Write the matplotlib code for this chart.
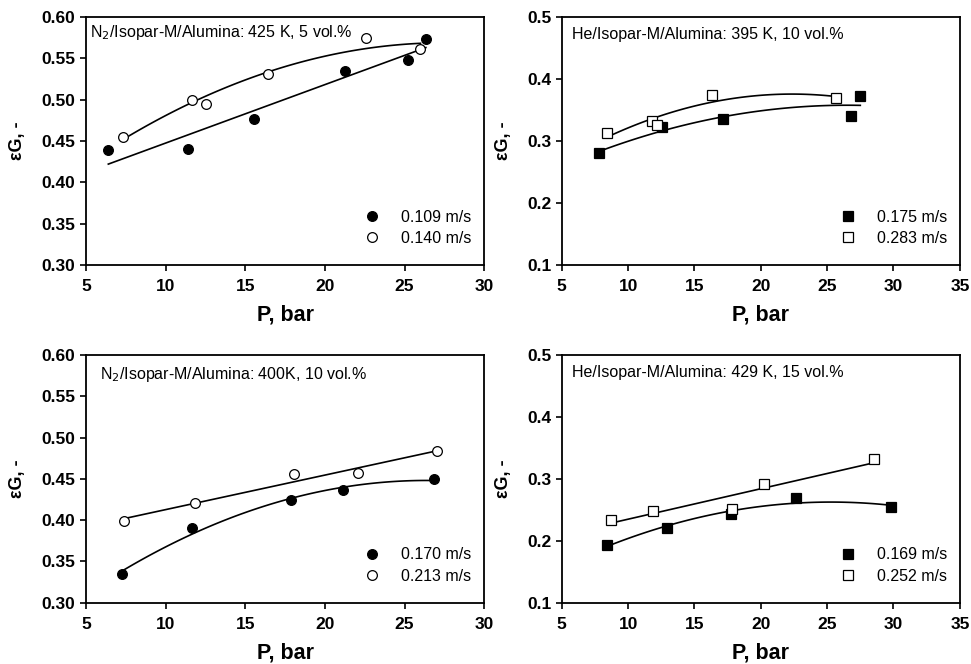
import numpy as np
import matplotlib.pyplot as plt

plt.rcParams['font.family'] = ['Liberation Sans', 'DejaVu Sans']

# Panel (a): N2, 425 K, 5 vol.%
p_a1 = [6.40, 11.38, 15.56, 21.25, 25.25, 26.34]
e_a1 = [0.439, 0.440, 0.476, 0.535, 0.548, 0.573]
p_a2 = [7.34, 11.67, 12.51, 16.44, 22.55, 26.00]
e_a2 = [0.455, 0.500, 0.495, 0.531, 0.574, 0.561]

# Panel (b): He, 395 K, 10 vol.%
p_b1 = [7.84, 12.53, 17.13, 26.79, 27.50]
e_b1 = [0.280, 0.323, 0.336, 0.341, 0.373]
p_b2 = [8.39, 11.78, 12.16, 16.30, 25.66]
e_b2 = [0.313, 0.332, 0.325, 0.374, 0.370]

# Panel (c): N2, 400 K, 10 vol.%
p_c1 = [7.26, 11.65, 17.85, 21.15, 26.82]
e_c1 = [0.335, 0.390, 0.424, 0.437, 0.450]
p_c2 = [7.41, 11.82, 18.08, 22.11, 27.07]
e_c2 = [0.399, 0.421, 0.456, 0.457, 0.484]

# Panel (d): He, 429 K, 15 vol.%
p_d1 = [8.39, 12.96, 17.73, 22.63, 29.78]
e_d1 = [0.194, 0.220, 0.244, 0.269, 0.255]
p_d2 = [8.69, 11.88, 17.83, 20.26, 28.52]
e_d2 = [0.234, 0.249, 0.251, 0.292, 0.332]

panels = [
    dict(pos=[0.0886, 0.601, 0.410, 0.3735], xlim=(5, 30), ylim=(0.30, 0.60),
         yticks=np.arange(0.30, 0.601, 0.05), fmt='%.2f', marker='o',
         title='N$_2$/Isopar-M/Alumina: 425 K, 5 vol.%', tx=0.01, ty=0.975,
         series=[(p_a1, e_a1, 'k', '0.109 m/s', 1), (p_a2, e_a2, 'w', '0.140 m/s', 2)]),
    dict(pos=[0.5785, 0.601, 0.410, 0.3735], xlim=(5, 35), ylim=(0.1, 0.5),
         yticks=np.arange(0.1, 0.501, 0.1), fmt='%.1f', marker='s',
         title='He/Isopar-M/Alumina: 395 K, 10 vol.%', tx=0.025, ty=0.96,
         series=[(p_b1, e_b1, 'k', '0.175 m/s', 2), (p_b2, e_b2, 'w', '0.283 m/s', 2)]),
    dict(pos=[0.0886, 0.0923, 0.410, 0.3727], xlim=(5, 30), ylim=(0.30, 0.60),
         yticks=np.arange(0.30, 0.601, 0.05), fmt='%.2f', marker='o',
         title='N$_2$/Isopar-M/Alumina: 400K, 10 vol.%', tx=0.035, ty=0.96,
         series=[(p_c1, e_c1, 'k', '0.170 m/s', 2), (p_c2, e_c2, 'w', '0.213 m/s', 1)]),
    dict(pos=[0.5785, 0.0923, 0.410, 0.3727], xlim=(5, 35), ylim=(0.1, 0.5),
         yticks=np.arange(0.1, 0.501, 0.1), fmt='%.1f', marker='s',
         title='He/Isopar-M/Alumina: 429 K, 15 vol.%', tx=0.025, ty=0.96,
         series=[(p_d1, e_d1, 'k', '0.169 m/s', 2), (p_d2, e_d2, 'w', '0.252 m/s', 1)]),
]

fig = plt.figure(figsize=(9.71, 6.64), dpi=100)

for pn in panels:
    ax = fig.add_axes(pn['pos'])
    for p, e, fc, lab, deg in pn['series']:
        # regression curve through the measured points
        c = np.polyfit(p, e, deg)
        xx = np.linspace(min(p), max(p), 100)
        ax.plot(xx, np.polyval(c, xx), color='k', lw=1.2, zorder=2)
        ms = 7 if pn['marker'] == 'o' else 6.5
        ax.plot(p, e, ls='none', marker=pn['marker'], ms=ms, mfc=fc, mec='k',
                mew=0.9, label=lab, zorder=3)
    ax.set_xlim(*pn['xlim'])
    ax.set_ylim(*pn['ylim'])
    ax.set_yticks(pn['yticks'])
    ax.set_yticklabels([pn['fmt'] % v for v in pn['yticks']])
    ax.tick_params(direction='out', top=False, right=False, length=4, width=1.2,
                   labelsize=12.5)
    ax.tick_params(axis='x', pad=6)
    for lbl in ax.get_xticklabels() + ax.get_yticklabels():
        lbl.set_fontweight('bold')
    for sp in ax.spines.values():
        sp.set_linewidth(1.3)
    ax.set_xlabel('P, bar', fontsize=15.5, fontweight='bold', labelpad=8)
    ax.set_ylabel('εG, -', fontsize=13, fontweight='bold', labelpad=11)
    ax.text(pn['tx'], pn['ty'], pn['title'], transform=ax.transAxes, fontsize=11.5,
            va='top', ha='left')
    ax.legend(loc='lower right', bbox_to_anchor=(1.0, 0.025), frameon=False,
              fontsize=11.5, handletextpad=1.3, borderaxespad=0.5,
              labelspacing=0.4, handlelength=1.0, borderpad=0.3)

fig.savefig('out.png', dpi=100)
